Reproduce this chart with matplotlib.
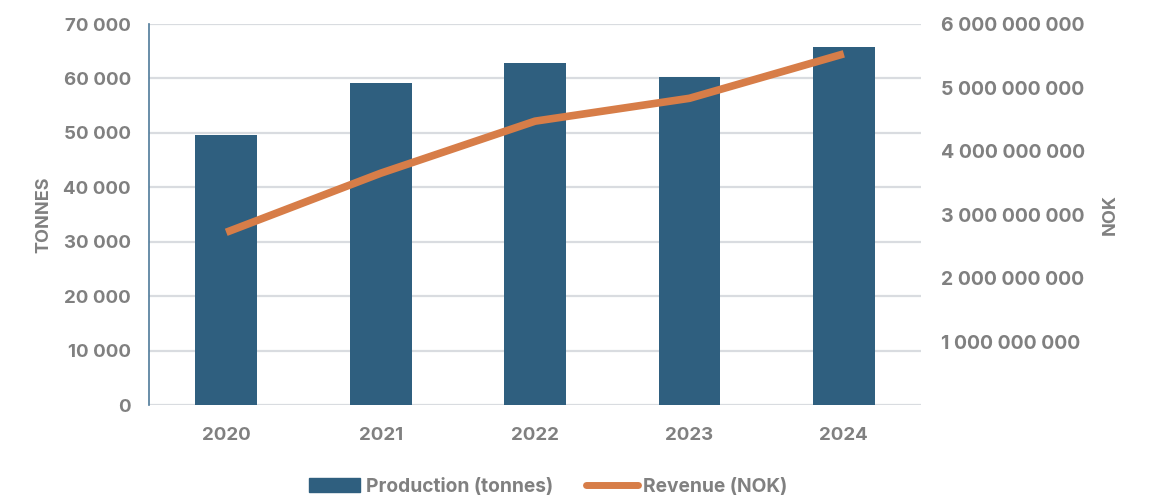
import matplotlib
matplotlib.use("Agg")
import matplotlib.pyplot as plt
from matplotlib.ticker import FuncFormatter, FixedLocator
from matplotlib.patches import Patch
from matplotlib.lines import Line2D

# data
years = ["2020", "2021", "2022", "2023", "2024"]
production_tonnes = [49600, 59200, 62900, 60300, 65700]
revenue_nok = [2.72e9, 3.65e9, 4.47e9, 4.83e9, 5.53e9]

left_ticks = [0, 10000, 20000, 30000, 40000, 50000, 60000, 70000]
right_ticks = [1e9, 2e9, 3e9, 4e9, 5e9, 6e9]

BAR = "#2F5F7F"
LINE = "#D77D48"
TXT = "#808080"
GRID = "#D9DCE0"

plt.rcParams["font.family"] = ["Inter", "DejaVu Sans"]
plt.rcParams["font.weight"] = "bold"

def spaced(v, pos=None):
    return f"{int(round(v)):,}".replace(",", " ")

fig = plt.figure(figsize=(11.49, 4.98), dpi=100)
ax = fig.add_axes([0.1297, 0.1867, 0.6719, 0.7651])
x = range(len(years))

ax.bar(x, production_tonnes, width=0.4, color=BAR, zorder=2)
ax.set_xlim(-0.5, len(years) - 0.5)
ax.set_ylim(0, 70000)
ax.yaxis.set_major_locator(FixedLocator(left_ticks))
ax.yaxis.set_major_formatter(FuncFormatter(spaced))
ax.grid(axis="y", color=GRID, linewidth=1.6, zorder=0)
ax.set_axisbelow(True)
for s in ["top", "right", "bottom"]:
    ax.spines[s].set_visible(False)
ax.spines["left"].set_color("#4F7A9A")
ax.spines["left"].set_linewidth(1.2)
ax.set_xticks(list(x))
ax.set_xticklabels(years)
ax.tick_params(axis="both", length=0, colors=TXT, labelsize=13.5)
ax.tick_params(axis="y", pad=13)
ax.tick_params(axis="x", pad=16)
ax.set_ylabel("TONNES", color=TXT, fontsize=13, fontweight="bold", labelpad=8)

ax2 = ax.twinx()
ax2.plot(x, revenue_nok, color=LINE, linewidth=5.5, solid_capstyle="butt", zorder=3)
ax2.set_ylim(0, 6e9)
ax2.yaxis.set_major_locator(FixedLocator(right_ticks))
ax2.yaxis.set_major_formatter(FuncFormatter(spaced))
ax2.tick_params(axis="y", length=0, colors=TXT, labelsize=14, pad=14.5)
for s in ax2.spines.values():
    s.set_visible(False)
ax2.set_ylabel("NOK", color=TXT, fontsize=13, fontweight="bold", labelpad=12)

handles = [Patch(color=BAR, label="Production (tonnes)"),
           Line2D([0], [0], color=LINE, linewidth=5, solid_capstyle="round", label="Revenue (NOK)")]
fig.legend(handles=handles, loc="center", bbox_to_anchor=(0.477, 0.022), ncol=2,
           frameon=False, fontsize=13.8, labelcolor=TXT, handlelength=2.7, handleheight=0.75,
           handletextpad=0.3, columnspacing=1.7)

fig.savefig("out.png", dpi=100)
